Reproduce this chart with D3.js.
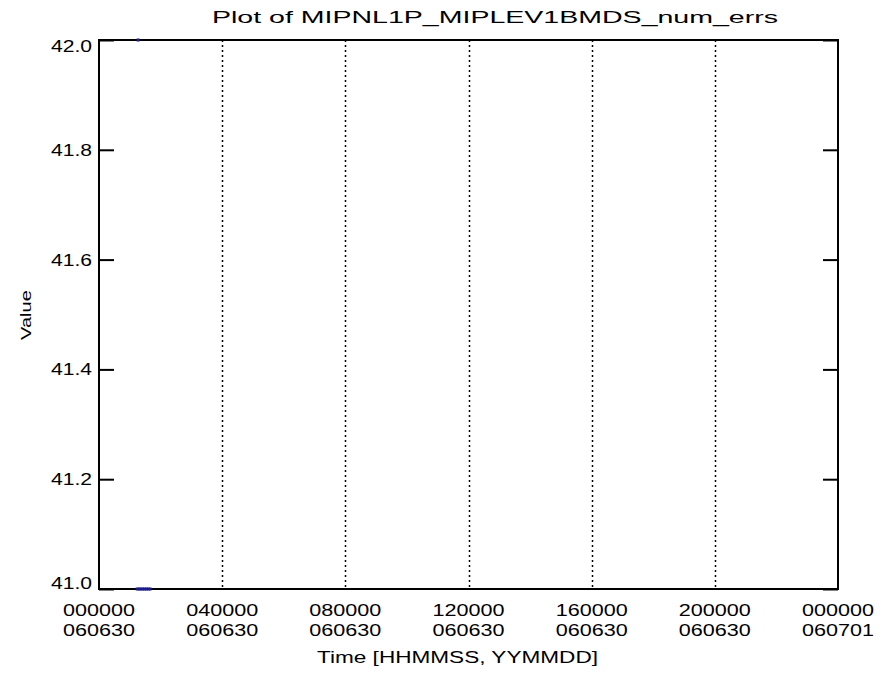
<!DOCTYPE html>
<html>
<head>
<meta charset="utf-8">
<script src="https://cdn.jsdelivr.net/npm/d3@7"></script>
<style>
  body { margin: 0; background: #fff; }
  text { font-family: "Liberation Sans", Arial, sans-serif; fill: #000; }
</style>
</head>
<body>
<svg id="chart" width="889" height="675"></svg>
<script>
// ---- data ----
const title = "Plot of  MIPNL1P_MIPLEV1BMDS_num_errs";
const xAxisTitle = "Time [HHMMSS, YYMMDD]";
const yAxisTitle = "Value";
// time in hours since 000000 060630
const times = [1.27, 1.24, 1.30, 1.36, 1.42, 1.48, 1.54, 1.60, 1.66];
const values = [42, 41, 41, 41, 41, 41, 41, 41, 41];
const xTickHours = [0, 4, 8, 12, 16, 20, 24];
const xTickTime = ["000000", "040000", "080000", "120000", "160000", "200000", "000000"];
const xTickDate = ["060630", "060630", "060630", "060630", "060630", "060630", "060701"];
const yTicks = [41.0, 41.2, 41.4, 41.6, 41.8, 42.0];

// ---- layout ----
const svg = d3.select("#chart");
const L = 99, R = 838, T = 40, B = 589;
const x = d3.scaleLinear().domain([0, 24]).range([L, R]);
const y = d3.scaleLinear().domain([41, 42]).range([B, T]);

// dotted grid lines at interior x ticks
svg.append("g").selectAll("line")
  .data(xTickHours.slice(1, -1))
  .join("line")
  .attr("x1", d => Math.round(x(d)) + 0.5).attr("x2", d => Math.round(x(d)) + 0.5)
  .attr("y1", T).attr("y2", B)
  .attr("stroke", "#000").attr("stroke-width", 1.5)
  .attr("stroke-dasharray", "2,3");

// frame
svg.append("rect").attr("x", L).attr("y", T).attr("width", R - L).attr("height", B - T)
  .attr("fill", "none").attr("stroke", "#000").attr("stroke-width", 2);

// y axis ticks left and right
const yAxisL = d3.axisRight(y).tickValues(yTicks).tickSize(15).tickFormat("");
const yAxisR = d3.axisLeft(y).tickValues(yTicks).tickSize(15).tickFormat("");
const gL = svg.append("g").attr("transform", `translate(${L},0)`).call(yAxisL);
const gR = svg.append("g").attr("transform", `translate(${R},0)`).call(yAxisR);
[gL, gR].forEach(g => {
  g.select(".domain").remove();
  g.selectAll("line").attr("stroke", "#000").attr("stroke-width", 2);
});

// y tick labels
svg.append("g").selectAll("text")
  .data(yTicks)
  .join("text")
  .attr("x", 51)
  .attr("y", d => y(d) + (d === 42 ? 12 : d === 41 ? 0 : 6))
  .attr("font-size", 16)
  .attr("textLength", 41).attr("lengthAdjust", "spacingAndGlyphs")
  .text(d => d.toFixed(1));

// x tick labels (two lines)
const xl = svg.append("g").selectAll("g")
  .data(xTickHours)
  .join("g");
xl.append("text")
  .attr("x", d => x(d) - 36).attr("y", 616)
  .attr("font-size", 16)
  .attr("textLength", 72).attr("lengthAdjust", "spacingAndGlyphs")
  .text((d, i) => xTickTime[i]);
xl.append("text")
  .attr("x", d => x(d) - 36).attr("y", 636)
  .attr("font-size", 16)
  .attr("textLength", 72).attr("lengthAdjust", "spacingAndGlyphs")
  .text((d, i) => xTickDate[i]);

// data points
svg.append("g").selectAll("rect")
  .data(times.map((t, i) => [t, values[i]]))
  .join("rect")
  .attr("x", d => x(d[0]) - 1.5)
  .attr("y", d => y(d[1]) - 1.5)
  .attr("width", 3).attr("height", 3)
  .attr("fill", "#1c1c8a");

// titles
svg.append("text")
  .attr("x", 212).attr("y", 23)
  .attr("font-size", 16)
  .attr("textLength", 566).attr("lengthAdjust", "spacingAndGlyphs")
  .text(title);
svg.append("text")
  .attr("x", 317).attr("y", 663)
  .attr("font-size", 16)
  .attr("textLength", 281).attr("lengthAdjust", "spacingAndGlyphs")
  .text(xAxisTitle);
svg.append("text")
  .attr("transform", "translate(31,340) rotate(-90)")
  .attr("font-size", 15)
  .attr("textLength", 50).attr("lengthAdjust", "spacingAndGlyphs")
  .text(yAxisTitle);
</script>
</body>
</html>
